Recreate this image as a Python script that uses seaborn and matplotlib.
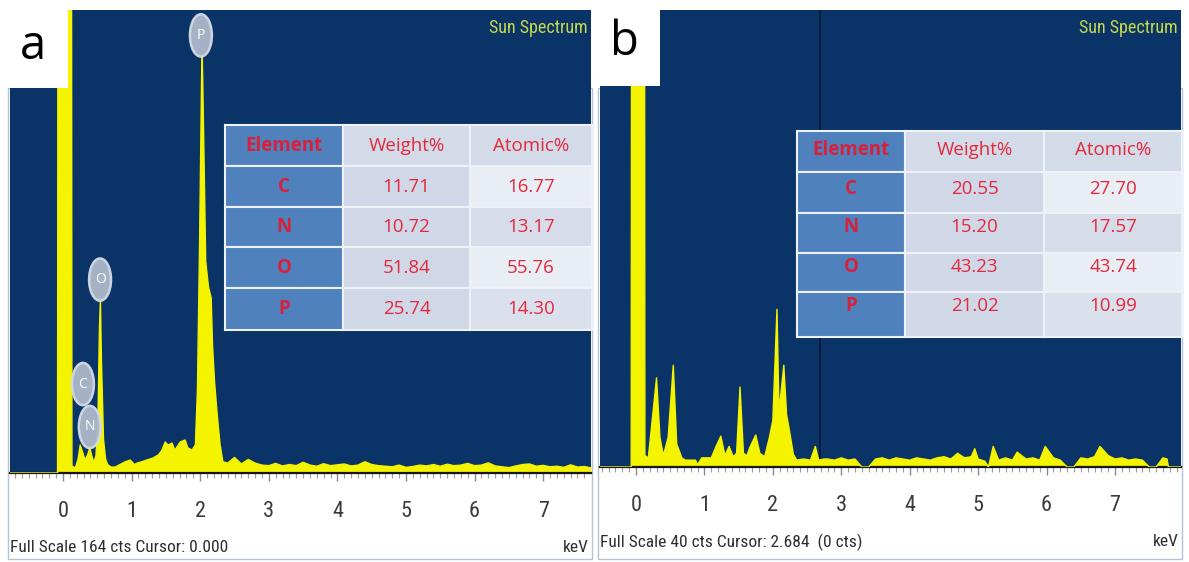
import matplotlib
matplotlib.use("Agg")
import matplotlib.pyplot as plt
import matplotlib.transforms as mtransforms
from matplotlib.patches import Rectangle, Ellipse
from matplotlib.ticker import MultipleLocator, FixedLocator
import seaborn as sns

# ---- data ----
energy_a = [-0.77, -0.08, -0.07, 0.12, 0.13, 0.18, 0.22, 0.25, 0.29, 0.32, 0.36, 0.39, 0.42,
            0.45, 0.48, 0.51, 0.53, 0.545, 0.56, 0.59, 0.62, 0.65, 0.70, 0.76, 0.83, 0.90,
            0.98, 1.04, 1.08, 1.15, 1.22, 1.31, 1.39, 1.44, 1.49, 1.53, 1.59, 1.63, 1.71,
            1.78, 1.82, 1.88, 1.93, 1.96, 1.99, 2.02, 2.03, 2.05, 2.08, 2.12, 2.16, 2.18,
            2.21, 2.25, 2.29, 2.33, 2.40, 2.45, 2.50, 2.60, 2.70, 2.80, 2.90, 3.00, 3.10,
            3.20, 3.30, 3.40, 3.50, 3.60, 3.70, 3.80, 3.90, 4.00, 4.10, 4.20, 4.30, 4.40,
            4.50, 4.60, 4.70, 4.80, 4.90, 5.00, 5.10, 5.20, 5.30, 5.40, 5.50, 5.60, 5.70,
            5.80, 5.90, 6.00, 6.10, 6.20, 6.30, 6.40, 6.50, 6.60, 6.70, 6.80, 6.90, 7.00,
            7.10, 7.20, 7.30, 7.40, 7.50, 7.60, 7.70]
counts_a = [0, 0, 320, 320, 2.5, 1.8, 5.0, 9.9, 7.0, 4.6, 6.5, 8.9, 6.0,
            3.9, 6.0, 20, 50, 62, 40, 12, 5.0, 3.0, 2.1, 2.1, 3.0, 3.9,
            4.6, 3.0, 3.5, 4.0, 4.6, 5.3, 6.4, 8.0, 11.0, 9.9, 10.6, 8.1, 11.0,
            11.7, 8.9, 8.1, 10, 30, 80, 140, 148, 120, 75, 66, 62, 45,
            32, 20, 10, 4.0, 3.5, 4.5, 5.5, 3.2, 4.8, 3.5, 2.8, 2.6, 3.4,
            2.5, 3.0, 2.6, 3.8, 2.8, 2.4, 3.3, 2.6, 2.9, 3.2, 2.5, 2.8, 4.0,
            3.0, 2.6, 2.4, 2.2, 2.8, 2.0, 2.3, 2.8, 2.5, 3.0, 2.4, 3.1, 2.6,
            2.8, 3.4, 2.6, 2.8, 3.6, 2.5, 2.2, 1.9, 2.5, 3.0, 3.2, 2.4, 2.7,
            2.2, 2.4, 2.0, 2.9, 2.1, 2.3, 1.8]

energy_b = [-0.53, -0.07, -0.06, 0.12, 0.13, 0.18, 0.23, 0.30, 0.35, 0.40, 0.47, 0.545,
            0.595, 0.67, 0.72, 0.80, 0.87, 0.90, 0.96, 1.05, 1.10, 1.17, 1.24, 1.30, 1.36,
            1.42, 1.47, 1.52, 1.57, 1.62, 1.67, 1.75, 1.81, 1.88, 1.95, 2.00, 2.06, 2.09,
            2.16, 2.20, 2.25, 2.30, 2.35, 2.45, 2.55, 2.62, 2.67, 2.75, 2.80, 2.90, 3.00,
            3.10, 3.20, 3.30, 3.40, 3.50, 3.60, 3.70, 3.80, 3.90, 4.00, 4.10, 4.20, 4.30,
            4.40, 4.50, 4.60, 4.70, 4.80, 4.90, 4.95, 5.00, 5.10, 5.15, 5.22, 5.30, 5.40,
            5.50, 5.57, 5.70, 5.80, 5.90, 5.98, 6.10, 6.20, 6.30, 6.40, 6.50, 6.60, 6.70,
            6.78, 6.90, 7.00, 7.10, 7.20, 7.30, 7.40, 7.50, 7.60, 7.70, 7.76, 7.78, 7.96]
counts_b = [0, 0, 90, 90, 1.0, 0.8, 3.7, 7.8, 2.6, 1.0, 2.6, 8.9,
            2.0, 0.8, 0.6, 0.6, 0.6, 0.2, 0.8, 0.8, 0.8, 1.8, 2.7, 1.0, 1.8,
            0.9, 1.2, 7.0, 1.2, 1.0, 1.8, 2.8, 1.2, 0.9, 2.6, 4.1, 13.8, 4.8,
            8.9, 4.6, 2.9, 1.1, 0.6, 0.7, 0.6, 1.8, 0.6, 0.7, 0.7, 0.6, 0.8,
            0.6, 0.7, 0, 0, 0.7, 0.8, 0.6, 0.8, 0.7, 0.6, 0.8, 0.7, 0.6,
            0.8, 0.9, 0.7, 1.2, 0.8, 0.9, 1.6, 0.7, 0.5, 0, 1.8, 0.6, 0.8,
            0.6, 1.3, 0.7, 0.8, 0.6, 1.8, 0.8, 0.6, 0, 0, 0.8, 0.7, 0.9,
            1.8, 1.0, 0.7, 0.8, 0.6, 0.7, 0.6, 0, 0, 0.8, 0.7, 0, 0]

full_scale_a = 164
full_scale_b = 40
cursor_a = 0.000
cursor_b = 2.684
major_kev = [0, 1, 2, 3, 4, 5, 6, 7]

peak_names_a = ["P", "O", "C", "N"]
peak_kev_a = [2.01, 0.54, 0.29, 0.39]
peak_cts_a = [155, 68.5, 31.5, 16.3]

table_header = ["Element", "Weight%", "Atomic%"]
elements = ["C", "N", "O", "P"]
weight_a = ["11.71", "10.72", "51.84", "25.74"]
atomic_a = ["16.77", "13.17", "55.76", "14.30"]
weight_b = ["20.55", "15.20", "43.23", "21.02"]
atomic_b = ["27.70", "17.57", "43.74", "10.99"]

# ---- styling ----
W, H = 1189, 562
BLUE = "#0a3467"
YELLOW = "#f4f400"
RED = "#e5283c"
NARROW = ["Roboto Condensed", "Roboto", "DejaVu Sans"]
CALIB = ["Open Sans", "DejaVu Sans"]

sns.set_style("white")
plt.rcParams["font.family"] = NARROW

fig = plt.figure(figsize=(W / 100, H / 100), dpi=100, facecolor="white")
# pixel coordinates measured from the top-left corner of the image
px = mtransforms.Affine2D().scale(1 / W, -1 / H).translate(0, 1) + fig.transFigure


def spectrum_panel(left, top, right, bottom, xlim, energy, counts, full_scale, scale_text):
    ax = fig.add_axes([left / W, 1 - bottom / H, (right - left) / W, (bottom - top) / H])
    ax.set_facecolor(BLUE)
    ax.fill_between(energy, 0, counts, color=YELLOW, lw=0, zorder=2)
    sns.lineplot(x=energy, y=counts, ax=ax, color=YELLOW, lw=1.0,
                 estimator=None, sort=False, zorder=3)
    ax.set_xlim(*xlim)
    ax.set_ylim(0, full_scale)
    ax.set_xlabel("")
    ax.set_ylabel("")
    ax.set_yticks([])
    ax.xaxis.set_major_locator(FixedLocator(major_kev))
    ax.xaxis.set_minor_locator(MultipleLocator(0.1))
    ax.set_xticklabels([str(k) for k in major_kev])
    ax.tick_params(axis="x", which="both", bottom=True, top=False)
    ax.tick_params(axis="x", which="major", direction="out", length=6, width=1,
                   color="#8a8a8a", labelsize=16, labelcolor="#3a3a3a", pad=14)
    ax.tick_params(axis="x", which="minor", direction="out", length=3.5, width=0.8,
                   color="#9a9a9a")
    for side in ["top", "left", "right"]:
        ax.spines[side].set_visible(False)
    ax.spines["bottom"].set_color("#151515")
    ax.spines["bottom"].set_linewidth(1.6)
    for lbl in ax.get_xticklabels():
        lbl.set_fontfamily(NARROW)

    # light frame round the panel
    fig.add_artist(Rectangle((left - 2, 88), right - left + 3, 559 - 88, transform=px,
                             fill=False, edgecolor="#b7c2d2", lw=1.0, zorder=-1))
    fig.text(left, bottom + 75, scale_text, transform=px, fontsize=12.5, color="#2e2e2e",
             ha="left", va="center", family=NARROW)
    fig.text(right - 2, bottom + 75, "keV", transform=px, fontsize=12.5, color="#2e2e2e",
             ha="right", va="center", family=NARROW)
    fig.text(right - 3, 28, "Sun Spectrum", transform=px, fontsize=13, color="#c6d84c",
             ha="right", va="center", family=NARROW, zorder=7)
    return ax


def element_table(x_edges, y_edges, text_y, weights, atomics):
    fills = [["#4f81bd", "#d3dae8", "#d3dae8"],
             ["#4f81bd", "#d0d8e8", "#e9edf4"],
             ["#4f81bd", "#d0d8e8", "#d6dde9"],
             ["#4f81bd", "#d0d8e8", "#e9edf4"],
             ["#4f81bd", "#d0d8e8", "#dbe1ec"]]
    rows = [table_header] + [[e, w, a] for e, w, a in zip(elements, weights, atomics)]
    for r, row in enumerate(rows):
        for c, txt in enumerate(row):
            fig.add_artist(Rectangle((x_edges[c], y_edges[r]), x_edges[c + 1] - x_edges[c],
                                     y_edges[r + 1] - y_edges[r], transform=px,
                                     facecolor=fills[r][c], edgecolor="#eef2f8", lw=1.5,
                                     zorder=6))
            bold = (c == 0)
            fig.text((x_edges[c] + x_edges[c + 1]) / 2, text_y[r], txt, transform=px,
                     ha="center", va="center", fontsize=13.5, color=RED if c else "#d8203a",
                     fontweight="bold" if bold else "normal", family=CALIB, zorder=7)


# panel a
ax_a = spectrum_panel(10, 10, 591, 473, (-0.773, 7.697), energy_a, counts_a, full_scale_a,
                      f"Full Scale {full_scale_a} cts Cursor: {cursor_a:.3f}")
for name, kev, cts in zip(peak_names_a, peak_kev_a, peak_cts_a):
    ax_a.add_patch(Ellipse((kev, cts), width=0.32, height=15, facecolor="#aeb9cb",
                           edgecolor="#d3dae5", lw=1.8, alpha=0.95, zorder=4))
    ax_a.text(kev, cts, name, ha="center", va="center", fontsize=10, color="white",
              family=CALIB, zorder=5)
element_table([225, 343, 470, 592], [125, 166, 207, 247, 288, 330],
              [146, 187, 227, 268, 309], weight_a, atomic_a)

# panel b
ax_b = spectrum_panel(600, 10, 1181, 467, (-0.526, 7.964), energy_b, counts_b, full_scale_b,
                      f"Full Scale {full_scale_b} cts Cursor: {cursor_b:.3f}  (0 cts)")
ax_b.axvline(cursor_b, color="#061630", lw=1.2, zorder=1.5)
element_table([797, 905, 1044, 1182], [131, 172, 213, 253, 292, 337],
              [150, 189, 227, 267, 306], weight_b, atomic_b)

# white boxes carrying the panel letters
fig.add_artist(Rectangle((0, 0), 68, 88, transform=px, facecolor="white", lw=0, zorder=8))
fig.add_artist(Rectangle((597, 0), 63, 86, transform=px, facecolor="white", lw=0, zorder=8))
fig.text(33, 46, "a", transform=px, fontsize=34, color="black", ha="center", va="center",
         family=CALIB, zorder=9)
fig.text(624, 42, "b", transform=px, fontsize=34, color="black", ha="center", va="center",
         family=CALIB, zorder=9)

fig.savefig("out.png", dpi=100, facecolor="white")
